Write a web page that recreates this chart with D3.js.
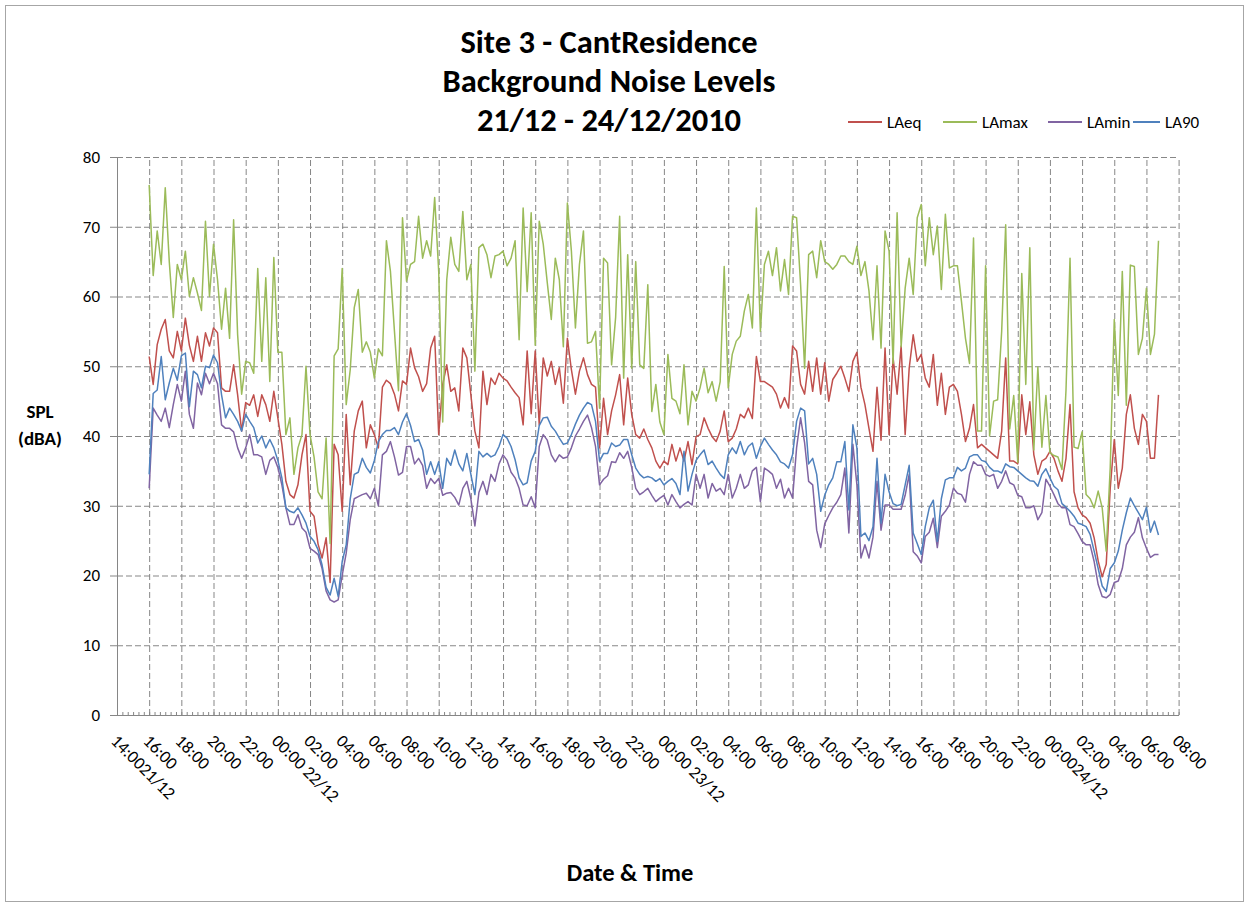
<!DOCTYPE html>
<html>
<head>
<meta charset="utf-8">
<script src="https://cdn.jsdelivr.net/npm/d3@7"></script>
<style>
  body { margin: 0; background: #fff; }
  text { font-family: Carlito, Calibri, Lato, sans-serif; fill: #000; }
  .grid line { stroke: #878787; stroke-dasharray: 6,3; }
  .grid path { display: none; }
  .axis path, .axis line { stroke: #868686; }
  .series { fill: none; stroke-width: 1.5; stroke-linejoin: round; }
</style>
</head>
<body>
<div id="chart"></div>
<script>
// series names and readings, one value every 15 minutes from 16:00 21/12/2010
const seriesNames = ["LAeq", "LAmax", "LAmin", "LA90"];
const startTime = new Date(2010, 11, 21, 16, 0);
const stepMinutes = 15;

const laeq = [
  51.4, 47.4, 53.1, 55.3, 56.7, 52.2, 51.2, 55,
  52.2, 56.9, 53, 50.7, 54.3, 50.7, 54.8, 52.9,
  55.5, 54.8, 46.9, 46.4, 46.4, 50.2, 45.9, 40.7,
  44.8, 44.4, 45.9, 42.8, 45.9, 44.5, 42.1, 46.4,
  42.6, 38.8, 33.5, 31.6, 31.1, 33, 37.3, 40.2,
  29.2, 28.5, 24.5, 22.5, 25.4, 19, 38.8, 37.3,
  29.2, 43.1, 33, 40.7, 43.6, 45, 38.3, 41.6,
  40.2, 38.3, 47, 48, 47.5, 46, 43.6, 47.9,
  47.4, 52.6, 49.8, 48.5, 46.4, 47.5, 52.6, 54.3,
  40.2, 47.4, 50.2, 46.4, 46.9, 43.6, 52.6, 51.2,
  45.9, 40.7, 38.3, 49.3, 44.5, 48.3, 47.4, 49,
  48.3, 47.9, 47, 46.2, 45.5, 41.6, 52.2, 43.2,
  52.2, 41.6, 51.2, 48.6, 50.7, 47.4, 49.8, 44.7,
  54, 49.5, 46, 49.3, 51.2, 48.8, 47.4, 47,
  38.3, 45.4, 40.2, 43.6, 45.9, 48.8, 41.6, 48.3,
  43.1, 40.2, 39.7, 41, 39.5, 38.3, 36.4, 35.4,
  36.4, 35.9, 38.8, 36.4, 38.3, 36.4, 39.2, 35.9,
  39.9, 40.2, 42.6, 41.1, 39.9, 39.2, 40.7, 43.6,
  39.2, 39.7, 41, 43.1, 42.6, 44, 42.5, 51.4,
  47.8, 47.8, 47.4, 47, 46, 44, 45.5, 44,
  52.9, 52.2, 47.4, 46, 50.7, 46.4, 51.2, 46,
  50.5, 45, 48.1, 49, 50, 48.3, 46.4, 50.7,
  52, 47, 44.5, 41.1, 37.8, 47, 39.4, 52.6,
  40.2, 51.2, 46, 52.9, 40.2, 49.7, 54.5, 50.7,
  51.7, 48.3, 47, 51.7, 44.4, 49, 43.1, 47,
  47.4, 46.4, 43.1, 39.2, 41.1, 44.5, 38.3, 38.8,
  38.3, 37.8, 37.3, 36.8, 40.7, 51.2, 36.4, 36.4,
  36, 45.9, 40.2, 44.9, 37.3, 34.5, 36.4, 36.8,
  37.8, 36.8, 35, 33.5, 36.8, 44.5, 32, 29.7,
  28.7, 28.3, 27.5, 25.4, 22.1, 19.8, 21.6, 32.5,
  39.5, 32.5, 35.4, 43.1, 45.9, 41.1, 38.8, 43.1,
  42.1, 36.8, 36.8, 45.9
];

const lamax = [
  76, 63, 69.4, 64.6, 75.6, 65, 57, 64.6,
  62.4, 66.5, 60, 62.7, 60.5, 58, 70.8, 60,
  67.5, 62.4, 55.3, 61.2, 54, 71, 54.5, 46,
  50.7, 50.5, 49, 64, 50.7, 62.7, 47.8, 65.6,
  52, 52, 40.2, 42.6, 34.5, 38.3, 40.2, 50,
  40.2, 37, 32, 31, 39.7, 24.6, 51.5, 52.5,
  64, 44.5, 49.5, 58.4, 61, 52, 53.5, 52,
  48.3, 52.5, 51.5, 68, 63.6, 55, 46.5, 71.3,
  62.2, 64.6, 65, 71.5, 65.5, 68, 65.8, 74.2,
  63.6, 42, 62.4, 68.5, 64.6, 63.6, 72.2, 62.4,
  64.6, 49.3, 67, 67.5, 66, 62.7, 65.8, 66,
  66.5, 64.4, 65.5, 68, 53.8, 72.7, 60.7, 72,
  53, 70.8, 67.5, 62, 56.7, 65.5, 62.4, 52.8,
  73.4, 66.5, 55.5, 64.6, 69.4, 53.3, 53.5, 55,
  44, 65.5, 64.8, 50.2, 57, 71.5, 48.3, 66,
  49.7, 65, 50.2, 49.7, 61.7, 43.5, 47.4, 42,
  40.2, 51.7, 45.4, 45, 43.2, 50.2, 41.6, 46.4,
  45, 46.9, 49.7, 46.2, 47.8, 45, 47.8, 64.3,
  46.9, 51.7, 53.6, 54.3, 57.9, 60.3, 55.5, 72.7,
  55, 64.6, 66.5, 63, 67, 60.8, 65.3, 60.3,
  71.5, 71.3, 61.7, 49.7, 66, 66.5, 62.7, 68,
  65, 64.6, 63.9, 64.6, 65.8, 65.8, 65, 64.6,
  67.2, 63, 65, 60.8, 53.8, 64.4, 52.6, 69.4,
  66.5, 50.4, 72, 52.8, 61.2, 65.5, 60.3, 71.3,
  73.2, 64.4, 71.3, 66, 70.1, 61, 71.8, 64.1,
  64.4, 64.4, 59.3, 54, 50.4, 68.4, 40.7, 40.7,
  64.4, 40, 45, 45.2, 55, 70.3, 41, 45.8,
  36.2, 63.3, 47.4, 67, 38, 49.9, 38.4, 45.8,
  37.6, 37.2, 37, 35.2, 46.6, 65.5, 38.4, 38.2,
  40.6, 31.6, 31, 29.7, 32.1, 29.7, 23.5, 35.5,
  56.7, 45.8, 63.6, 44.4, 64.5, 64.3, 51.7, 54,
  61.2, 51.7, 54.6, 68
];

const lamin = [
  32.5, 44, 43, 42.1, 44, 41.2, 44.5, 47.4,
  45, 49.3, 43.1, 41.1, 47.6, 45.9, 49, 47.5,
  49, 47.5, 41.6, 41.1, 41.1, 40.6, 38.3, 36.8,
  38.3, 40.2, 37.3, 37.3, 37, 34.5, 36.5, 37,
  35.5, 33, 29.7, 27.3, 27.3, 28.7, 26.8, 26.2,
  23.9, 23.5, 23, 21, 17.8, 16.5, 16.2, 16.5,
  20, 23.2, 28, 31, 31.3, 31.6, 31.8, 31,
  32.5, 30, 37.3, 37.8, 39.2, 37, 34.4, 34.8,
  38.5, 38.5, 36, 36.8, 35.8, 32.5, 33.9, 33.2,
  33.9, 31.5, 31.8, 31.9, 31.2, 30.1, 32.5, 33.5,
  31, 27.1, 31.9, 33.5, 31.6, 34.5, 33.5, 36,
  37.3, 36.5, 34.8, 34, 32.5, 30.1, 30, 31.3,
  29.7, 38.5, 40.2, 39.4, 37.3, 36.3, 37.3, 36.8,
  37, 38.3, 40, 41, 42.1, 43, 41.2, 38.5,
  33, 33.8, 34.3, 36.3, 36.2, 37.6, 36.8, 37.8,
  35.5, 32.5, 31.6, 32, 32.5, 31.5, 30.6, 31.1,
  31.5, 30.1, 31.6, 30.6, 29.7, 30.2, 30.6, 30.1,
  34.5, 32.5, 34.5, 31.1, 33.2, 32.1, 32.5, 31.6,
  34.5, 31.1, 32.5, 34.5, 32.5, 33, 35, 35.5,
  30.6, 35.4, 35, 34.5, 32.5, 33.8, 31.1, 32.5,
  31.1, 38.3, 42.6, 39, 33.5, 33, 26.5, 24,
  27.4, 28.6, 29.7, 30.5, 31.6, 35.4, 26.1, 38.8,
  33, 22.5, 24.4, 22.5, 25.5, 33.5, 26.5, 30.1,
  30.1, 29.5, 29.5, 29.5, 31.5, 34.5, 23.4, 22.8,
  21.8, 25.6, 26.2, 28.2, 24, 28.5, 29.2, 30.1,
  32.5, 31.8, 31.6, 30.5, 34.5, 36.3, 35.8, 35.8,
  34.5, 34.2, 34.5, 32.5, 33.5, 35, 33.3, 33,
  31.5, 31.3, 29.7, 29.7, 30, 28, 29, 33.8,
  32.8, 31.6, 30.3, 29.7, 29.7, 27.3, 27, 26,
  24.9, 24.4, 24.4, 22, 18.7, 17, 16.8, 17.3,
  19, 19.2, 21, 24.4, 25.5, 26.2, 28.3, 25.4,
  23.9, 22.6, 23, 23
];

const la90 = [
  34.5, 46.1, 46.6, 51.4, 45.2, 47.6, 49.7, 48,
  51.5, 51.9, 44.2, 49.3, 48.8, 46.9, 50, 49.8,
  51.6, 50.5, 45.9, 42.6, 44, 43.1, 42.1, 40.7,
  43.1, 42.1, 41.2, 39, 40, 38.3, 39.5, 38.3,
  36.5, 34, 29.7, 29.2, 29, 29.7, 28.7, 27.5,
  25.6, 24.9, 23.7, 21.5, 18.3, 17.2, 19.6, 17,
  22, 24.4, 31, 34.5, 34.8, 36.8, 35.5, 34.7,
  36.5, 39.2, 40.2, 40.8, 40.8, 41.2, 40.2, 42,
  43.2, 41.5, 39.2, 39.5, 38, 34.5, 36.3, 34.5,
  36.3, 32.5, 36.8, 35.8, 38, 36, 35, 37.5,
  34.5, 31.6, 37.8, 37, 37.5, 37, 37.3, 38.5,
  40.2, 39.7, 38.5, 36.6, 34, 33, 33.3, 36.4,
  37.8, 41.5, 42.6, 42.7, 41.4, 40.7, 39.7, 38.8,
  39, 40.2, 41.7, 43, 44, 44.8, 44.5, 42.1,
  36.4, 37.5, 37.5, 39, 38.5, 38.7, 39.5, 39.5,
  37.3, 35.4, 34.5, 34, 34.2, 34, 33.5, 33.9,
  33, 33.5, 33.9, 33.2, 31.6, 37.8, 32.1, 34.5,
  36.5, 37.3, 38, 35.9, 36.4, 35.4, 34.5, 33.9,
  37.3, 38.3, 37.5, 39.2, 37.3, 38.5, 39, 36.8,
  38.5, 39.7, 38.8, 38, 37.3, 36.3, 36, 35.4,
  37.3, 42.1, 44, 43.6, 36, 36.8, 34.5, 29.2,
  31.5, 33, 34, 36.3, 36.3, 39.2, 29.4, 41.6,
  38.3, 25.6, 26.1, 25, 27, 36.8, 27.5, 34.5,
  32, 30.3, 30, 30.2, 33, 35.8, 26.1, 24.6,
  23, 27, 29.7, 30.8, 24.9, 31, 33.7, 34,
  34, 35.5, 35, 35.4, 37, 37.3, 37.3, 36.5,
  36.3, 35.5, 35, 35, 34.7, 36, 35.6, 35.5,
  35, 34.5, 34, 33.6, 33.5, 32.8, 34.5, 35.3,
  34, 32.8, 32.3, 30.3, 29.8, 29.2, 28.5, 27.5,
  27.3, 27, 25.9, 23.5, 21, 18.5, 17.7, 21,
  21.8, 23.5, 26.5, 29, 31.1, 30, 29, 28,
  29.8, 26.2, 27.8, 25.8
];

// axis values
const yTicks = [0, 10, 20, 30, 40, 50, 60, 70, 80];
const xStart = new Date(2010, 11, 21, 14, 0);
const xEnd = new Date(2010, 11, 24, 8, 0);
const xTickLabels = [
  "14:0021/12", "16:00", "18:00", "20:00", "22:00",
  "00:00 22/12", "02:00", "04:00", "06:00", "08:00", "10:00", "12:00",
  "14:00", "16:00", "18:00", "20:00", "22:00",
  "00:00 23/12", "02:00", "04:00", "06:00", "08:00", "10:00", "12:00",
  "14:00", "16:00", "18:00", "20:00", "22:00",
  "00:0024/12", "02:00", "04:00", "06:00", "08:00"
];

const colors = {LAeq: "#c0504d", LAmax: "#9bbb59", LAmin: "#8064a2", LA90: "#4f81bd"};

function drawChart(width, height, selector) {

  let margin = {top: 157, left: 117, right: 70.4, bottom: 191};
  let chartWidth = width - margin.left - margin.right;
  let chartHeight = height - margin.top - margin.bottom;

  let values = {LAeq: laeq, LAmax: lamax, LAmin: lamin, LA90: la90};
  let series = seriesNames.map(name => ({
    name: name,
    points: values[name].map((v, i) => ({
      time: new Date(startTime.getTime() + i * stepMinutes * 60000),
      value: v
    }))
  }));

  let xPositionScale = d3.scaleTime()
    .domain([xStart, xEnd])
    .range([0, chartWidth]);

  let yPositionScale = d3.scaleLinear()
    .domain([0, 80])
    .range([chartHeight, 0]);

  let majorTicks = d3.timeHour.every(2).range(xStart, new Date(xEnd.getTime() + 1));
  let minorTicks = d3.timeMinute.every(20).range(xStart, new Date(xEnd.getTime() + 1));

  let svg = d3.select(selector)
    .append("svg")
    .attr("width", width)
    .attr("height", height);

  // outer chart border
  svg.append("rect")
    .attr("x", 5.5).attr("y", 5.5)
    .attr("width", width - 11).attr("height", height - 10)
    .attr("fill", "none")
    .attr("stroke", "#a6a6a6");

  let chart = svg.append("g")
    .attr("transform", "translate(" + margin.left + "," + margin.top + ")");

  // dashed grid
  chart.append("g")
    .attr("class", "grid")
    .call(d3.axisLeft(yPositionScale).tickValues(yTicks).tickSize(-chartWidth).tickFormat(""));

  chart.append("g")
    .attr("class", "grid")
    .attr("transform", "translate(0," + chartHeight + ")")
    .call(d3.axisBottom(xPositionScale).tickValues(majorTicks.slice(1)).tickSize(chartHeight).tickFormat(""))
    .selectAll("line")
    .attr("y2", -chartHeight);

  // lines
  let line = d3.line()
    .x(d => xPositionScale(d.time))
    .y(d => yPositionScale(d.value));

  series.forEach(s => {
    chart.append("path")
      .attr("class", "series")
      .attr("stroke", colors[s.name])
      .attr("d", line(s.points));
  });

  // y axis
  let yAxis = d3.axisLeft(yPositionScale)
    .tickValues(yTicks)
    .tickSizeInner(7)
    .tickSizeOuter(0)
    .tickPadding(10);

  let yAxisG = chart.append("g")
    .attr("class", "axis y-axis")
    .call(yAxis);
  yAxisG.selectAll("text").style("font-size", "17px");

  // x axis with small inner ticks
  let xAxis = d3.axisBottom(xPositionScale)
    .tickValues(minorTicks)
    .tickSizeInner(-3)
    .tickSizeOuter(0)
    .tickFormat("");

  chart.append("g")
    .attr("class", "axis x-axis")
    .attr("transform", "translate(0," + chartHeight + ")")
    .call(xAxis);

  // rotated x labels
  chart.append("g")
    .selectAll("text")
    .data(majorTicks)
    .enter()
    .append("text")
    .attr("transform", d => "translate(" + (xPositionScale(d) - 7) + "," + (chartHeight + 27) + ") rotate(45)")
    .style("font-size", "17.5px")
    .text((d, i) => xTickLabels[i]);

  // titles
  let titleLines = ["Site 3 - CantResidence", "Background Noise Levels", "21/12 - 24/12/2010"];
  svg.append("g")
    .selectAll("text")
    .data(titleLines)
    .enter()
    .append("text")
    .attr("x", 609)
    .attr("y", (d, i) => 53 + i * 39)
    .attr("text-anchor", "middle")
    .style("font-size", "32.5px")
    .style("font-weight", "bold")
    .text(d => d);

  svg.append("text")
    .attr("x", 40).attr("y", 418)
    .attr("text-anchor", "middle")
    .style("font-size", "19px").style("font-weight", "bold")
    .text("SPL");
  svg.append("text")
    .attr("x", 40).attr("y", 445)
    .attr("text-anchor", "middle")
    .style("font-size", "19px").style("font-weight", "bold")
    .text("(dBA)");

  svg.append("text")
    .attr("x", 630).attr("y", 881)
    .attr("text-anchor", "middle")
    .style("font-size", "24.5px").style("font-weight", "bold")
    .text("Date & Time");

  // legend
  let legendX = [848, 943, 1048, 1133];
  let legendLen = [34, 34, 34, 27];
  let legend = svg.append("g").attr("transform", "translate(0,122)");
  seriesNames.forEach((name, i) => {
    legend.append("line")
      .attr("x1", legendX[i]).attr("x2", legendX[i] + legendLen[i])
      .attr("y1", 0).attr("y2", 0)
      .attr("stroke", colors[name])
      .attr("stroke-width", 2);
    legend.append("text")
      .attr("x", legendX[i] + legendLen[i] + 5)
      .attr("y", 6)
      .style("font-size", "17px")
      .text(name);
  });
}

drawChart(1249, 906, "#chart");
</script>
</body>
</html>
